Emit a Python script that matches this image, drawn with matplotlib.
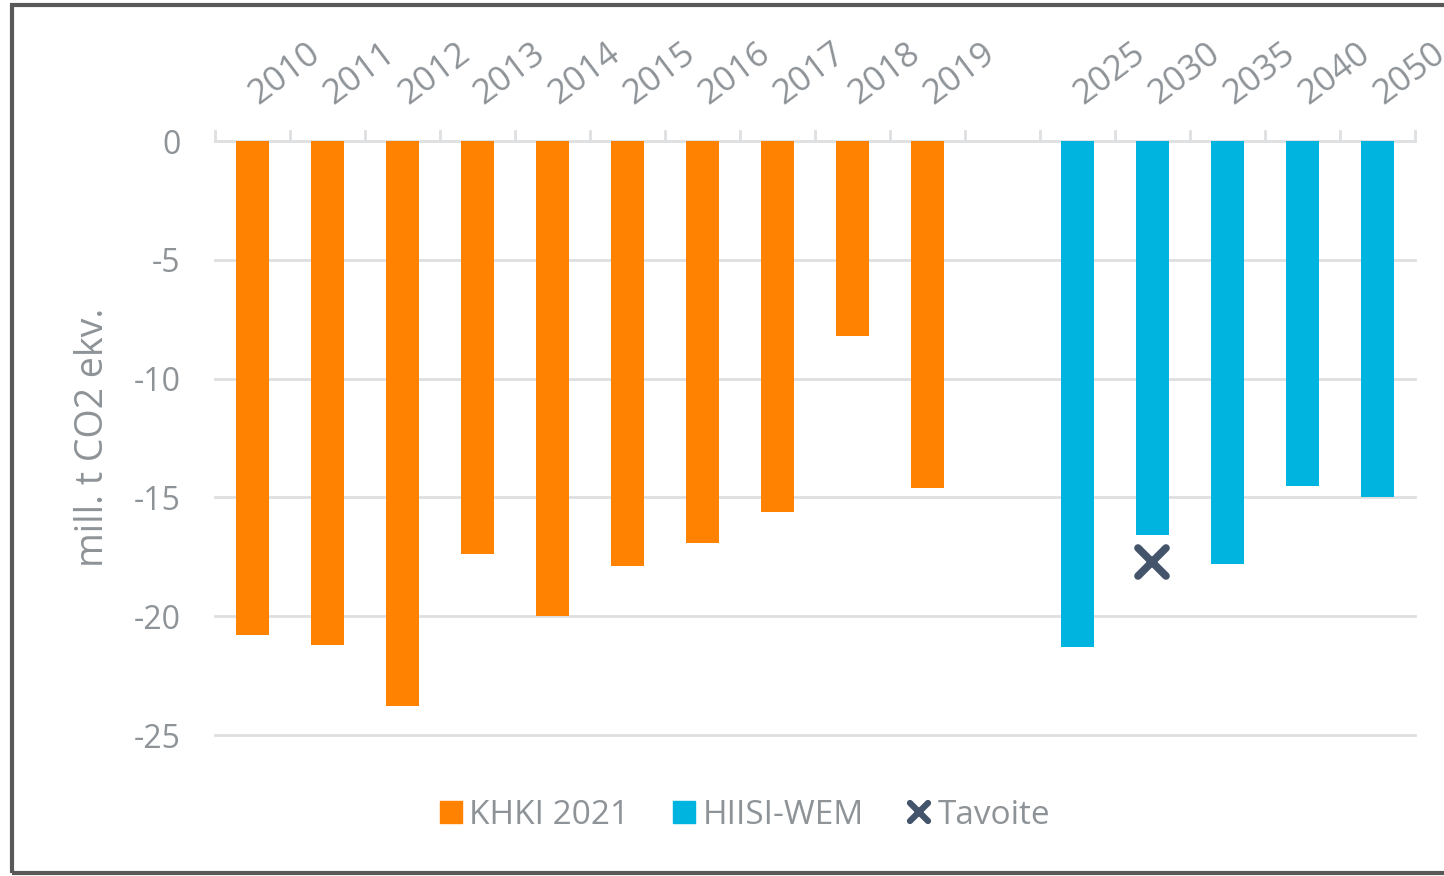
import matplotlib
matplotlib.use("Agg")
import matplotlib.pyplot as plt
from matplotlib.lines import Line2D
from matplotlib.patches import Rectangle
from matplotlib.markers import MarkerStyle
import matplotlib.transforms as mtransforms

plt.rcParams['font.family'] = ['Open Sans', 'DejaVu Sans']

categories = ["2010", "2011", "2012", "2013", "2014", "2015", "2016", "2017", "2018", "2019",
              "", "2025", "2030", "2035", "2040", "2050"]
khki_years = ["2010", "2011", "2012", "2013", "2014", "2015", "2016", "2017", "2018", "2019"]
khki_values = [-20.8, -21.2, -23.8, -17.4, -20.0, -17.9, -16.9, -15.6, -8.2, -14.6]
hiisi_years = ["2025", "2030", "2035", "2040", "2050"]
hiisi_values = [-21.3, -16.6, -17.8, -14.5, -15.0]
target_years = ["2030"]
target_values = [-17.7]
yticks = [0, -5, -10, -15, -20, -25]

ORANGE = "#FF8300"
BLUE = "#00B4E0"
XCOL = "#44546A"
TXT = "#8E9398"
GRID = "#DEDFE0"

W, H = 1444, 876
fig = plt.figure(figsize=(W / 100, H / 100), dpi=100)
ax = fig.add_axes([215 / W, 1 - 735 / H, (1415 - 215) / W, (735 - 141) / H])

xmark = MarkerStyle('x', capstyle='round')

idx = {c: i for i, c in enumerate(categories) if c}
bw = 0.44
ax.bar([idx[y] for y in khki_years], khki_values, width=bw, color=ORANGE, zorder=3)
ax.bar([idx[y] for y in hiisi_years], hiisi_values, width=bw, color=BLUE, zorder=3)
ax.plot([idx[y] for y in target_years], target_values, linestyle='none', marker=xmark,
        markersize=20, color=XCOL, markeredgewidth=5.5, zorder=4)

ax.set_xlim(-0.5, len(categories) - 0.5)
ax.set_ylim(-25, 0)
for s in ax.spines.values():
    s.set_visible(False)
ax.set_yticks(yticks)
ax.set_yticklabels([str(v) for v in yticks], fontsize=23, color=TXT)
ax.tick_params(axis='y', length=0, pad=25)
ax.set_xticks([])
for v in yticks:
    ax.axhline(v, color=GRID, linewidth=2, zorder=1, clip_on=False)

# tick marks upward at category boundaries
for b in range(len(categories) + 1):
    xb = b - 0.5
    ax.plot([xb, xb], [0, 0.42], color=GRID, linewidth=2, zorder=1, clip_on=False)

# rotated category labels above
lab_tr = mtransforms.offset_copy(ax.transData, fig=fig, x=6, y=36, units='dots')
for i, c in enumerate(categories):
    if c:
        ax.text(i, 0, c, transform=lab_tr, rotation=37, rotation_mode='anchor',
                ha='left', va='baseline', fontsize=25, color=TXT)

fig.text(93 / W, 1 - 437 / H, "mill. t CO2 ekv.", rotation=90, ha='center', va='center',
         fontsize=27, color=TXT)

handles = [
    Line2D([], [], linestyle='none', marker='s', markersize=16, color=ORANGE),
    Line2D([], [], linestyle='none', marker='s', markersize=16, color=BLUE),
    Line2D([], [], linestyle='none', marker=xmark, markersize=13, color=XCOL, markeredgewidth=4.5),
]
fig.legend(handles, ["KHKI 2021", "HIISI-WEM", "Tavoite"], loc='center',
           bbox_to_anchor=(743 / W, 1 - 815 / H), ncol=3, frameon=False,
           fontsize=24, labelcolor=TXT, handletextpad=0.1, columnspacing=1.2,
           handlelength=0.9)

fig.patches.append(Rectangle((12 / W, 1 - 873 / H), 1500 / W, (873 - 5) / H,
                             transform=fig.transFigure, fill=False,
                             edgecolor="#595959", linewidth=3))

fig.savefig("out.png", dpi=100)
